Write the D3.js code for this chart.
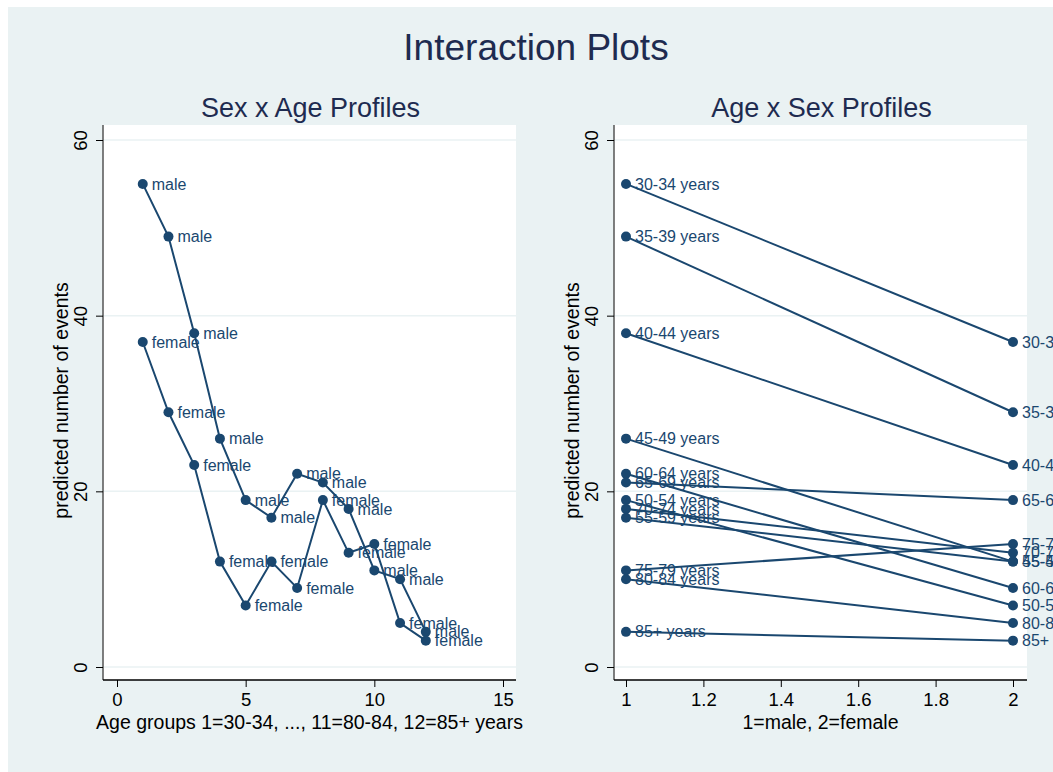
<!DOCTYPE html>
<html><head><meta charset="utf-8">
<script src="https://cdn.jsdelivr.net/npm/d3@7"></script>
<style>body{margin:0;background:#fff}svg{display:block}text{font-family:"Liberation Sans",Arial,sans-serif}</style>
</head><body>
<script>
const ageGroups = [1,2,3,4,5,6,7,8,9,10,11,12];
const ageLabels = ["30-34 years","35-39 years","40-44 years","45-49 years","50-54 years","55-59 years","60-64 years","65-69 years","70-74 years","75-79 years","80-84 years","85+ years"];
const maleValues = [55,49,38,26,19,17,22,21,18,11,10,4];
const femaleValues = [37,29,23,12,7,12,9,19,13,14,5,3];
const sexCodes = [1,2];
const sexLabels = ["male","female"];
const yTicks = [0,20,40,60];
const xTicksLeft = [0,5,10,15];
const xTicksRight = [1,1.2,1.4,1.6,1.8,2];

const W=1053,H=772, navy="#1a476f", bg="#eaf2f3";
const svg=d3.select("body").append("svg").attr("width",W).attr("height",H);
svg.append("rect").attr("x",8).attr("y",7).attr("width",W).attr("height",H).attr("fill",bg);
svg.append("text").attr("x",536).attr("y",60).attr("text-anchor","middle").attr("font-size",37).attr("fill","#1e2b50").text("Interaction Plots");

const plotTop=125,plotBottom=680;
const y=d3.scaleLinear().domain([0,60]).range([667,140]);

function panel(x0,x1,xs,xTicks,fmt,title,xTitle){
  svg.append("rect").attr("x",x0).attr("y",plotTop).attr("width",x1-x0).attr("height",plotBottom-plotTop).attr("fill","#fff");
  svg.append("text").attr("x",(x0+x1)/2+1).attr("y",117).attr("text-anchor","middle").attr("font-size",27).attr("fill","#1e2b50").text(title);
  const g=svg.append("g");
  yTicks.forEach(t=>{g.append("line").attr("x1",x0).attr("x2",x1).attr("y1",y(t)).attr("y2",y(t)).attr("stroke",bg).attr("stroke-width",1.5);});
  const ya=svg.append("g").attr("transform",`translate(${x0},0)`).call(d3.axisLeft(y).tickValues(yTicks).tickSize(7).tickSizeOuter(0).tickPadding(5));
  ya.select(".domain").attr("d",`M0,${plotTop}V${plotBottom}`).attr("stroke","#555").attr("stroke-width",1.5);
  ya.selectAll(".tick line").attr("stroke","#000");
  ya.selectAll(".tick text").attr("font-size",18.5).attr("fill","#000").attr("transform","rotate(-90)").attr("x",0).attr("y",-22).attr("dy","0.35em").attr("text-anchor","middle").style("font-family","Liberation Sans, Arial, sans-serif");
  const xa=svg.append("g").attr("transform",`translate(0,${plotBottom})`).call(d3.axisBottom(xs).tickValues(xTicks).tickFormat(fmt).tickSize(7).tickSizeOuter(0).tickPadding(6));
  xa.select(".domain").attr("d",`M${x0},0H${x1}`).attr("stroke","#000").attr("stroke-width",1.5);
  xa.selectAll(".tick text").attr("font-size",18.5).attr("fill","#000").style("font-family","Liberation Sans, Arial, sans-serif");
  svg.append("text").attr("x",(x0+x1)/2).attr("y",729).attr("text-anchor","middle").attr("font-size",19.5).text(xTitle);
  svg.append("text").attr("transform",`translate(${x0-35},${(plotTop+plotBottom)/2-2}) rotate(-90)`).attr("text-anchor","middle").attr("font-size",19.5).text("predicted number of events");
}

const line=d3.line();

// Left panel
const xl=d3.scaleLinear().domain([0,15]).range([117,503]);
panel(103,516,xl,xTicksLeft,d3.format("d"),"Sex x Age Profiles","Age groups 1=30-34, ..., 11=80-84, 12=85+ years");
[maleValues,femaleValues].forEach((vals)=>{
  const pts=ageGroups.map((a,i)=>[xl(a),y(vals[i])]);
  svg.append("path").attr("d",line(pts)).attr("fill","none").attr("stroke",navy).attr("stroke-width",2);
});
[maleValues,femaleValues].forEach((vals,si)=>{
  ageGroups.forEach((a,i)=>{
    svg.append("circle").attr("cx",xl(a)).attr("cy",y(vals[i])).attr("r",5).attr("fill",navy);
    svg.append("text").attr("x",xl(a)+9).attr("y",y(vals[i])).attr("dy","0.35em").attr("font-size",16).attr("fill",navy).text(sexLabels[si]);
  });
});

// Right panel
const xr=d3.scaleLinear().domain([1,2]).range([626,1013]);
panel(614,1027,xr,xTicksRight,d3.format("~g"),"Age x Sex Profiles","1=male, 2=female");
ageGroups.forEach((a,i)=>{
  const vals=[maleValues[i],femaleValues[i]];
  svg.append("path").attr("d",line(sexCodes.map((s,j)=>[xr(s),y(vals[j])]))).attr("fill","none").attr("stroke",navy).attr("stroke-width",2);
});
ageGroups.forEach((a,i)=>{
  const vals=[maleValues[i],femaleValues[i]];
  sexCodes.forEach((s,j)=>{
    svg.append("circle").attr("cx",xr(s)).attr("cy",y(vals[j])).attr("r",5).attr("fill",navy);
    svg.append("text").attr("x",xr(s)+9).attr("y",y(vals[j])).attr("dy","0.35em").attr("font-size",16).attr("fill",navy).text(ageLabels[i]);
  });
});
</script>
</body></html>
